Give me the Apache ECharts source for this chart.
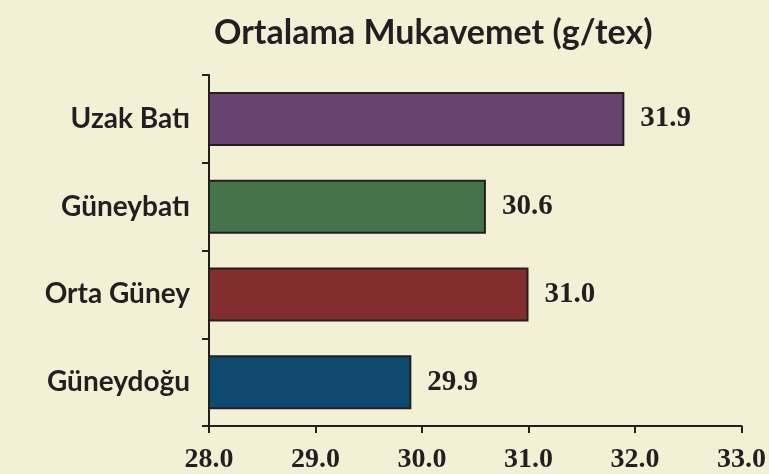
<!DOCTYPE html>
<html>
<head>
    <meta charset="UTF-8">
    <title>Ortalama Mukavemet</title>
    <script src="https://cdn.jsdelivr.net/npm/echarts@6/dist/echarts.min.js"></script>
    <style>
        * { padding: 0; margin: 0; }
        body { background: #f4f0d6; }
        #chart { width: 769px; height: 474px; }
    </style>
</head>
<body>
    <div id="chart"></div>
<script>
    // veriler (g/tex)
    var regions = ['Uzak Batı', 'Güneybatı', 'Orta Güney', 'Güneydoğu'];
    var strength = [31.9, 30.6, 31.0, 29.9];
    var barColors = ['#674470', '#46744a', '#832e2e', '#0e4a70'];
    var xTicks = [28.0, 29.0, 30.0, 31.0, 32.0, 33.0];

    var ink = '#231f20';

    var myChart = echarts.init(document.getElementById('chart'));

    var option = {
        backgroundColor: '#f4f0d6',
        animation: false,
        title: {
            text: 'Ortalama Mukavemet (g/tex)',
            left: 209,
            top: 11,
            textStyle: {
                fontFamily: 'Lato',
                fontWeight: 'bold',
                fontSize: 34,
                color: ink
            }
        },
        grid: {
            left: 209,
            right: 24,
            top: 75,
            bottom: 48
        },
        xAxis: {
            type: 'value',
            min: xTicks[0],
            max: xTicks[xTicks.length - 1],
            interval: 1,
            axisLine: { show: true, lineStyle: { color: ink, width: 2 } },
            axisTick: { show: true, length: 7, lineStyle: { color: ink, width: 2 } },
            splitLine: { show: false },
            axisLabel: {
                margin: 20,
                fontFamily: 'Liberation Serif',
                fontWeight: 'bold',
                fontSize: 28,
                color: ink,
                formatter: function (v) { return v.toFixed(1); }
            }
        },
        yAxis: {
            type: 'category',
            inverse: true,
            data: regions,
            axisLine: { show: true, lineStyle: { color: ink, width: 2 } },
            axisTick: { show: true, length: 7, lineStyle: { color: ink, width: 2 } },
            axisLabel: {
                margin: 19,
                fontFamily: 'Lato',
                fontWeight: 'bold',
                fontSize: 28,
                color: ink
            }
        },
        series: [{
            type: 'bar',
            barWidth: 54,
            data: strength.map(function (v, i) {
                return { value: v, itemStyle: { color: barColors[i] } };
            }),
            itemStyle: { borderColor: ink, borderWidth: 2 },
            label: {
                show: true,
                position: 'right',
                distance: 16,
                fontFamily: 'Liberation Serif',
                fontWeight: 'bold',
                fontSize: 29,
                color: ink,
                formatter: function (p) { return p.value.toFixed(1); }
            }
        }]
    };

    myChart.setOption(option);
</script>
</body>
</html>
